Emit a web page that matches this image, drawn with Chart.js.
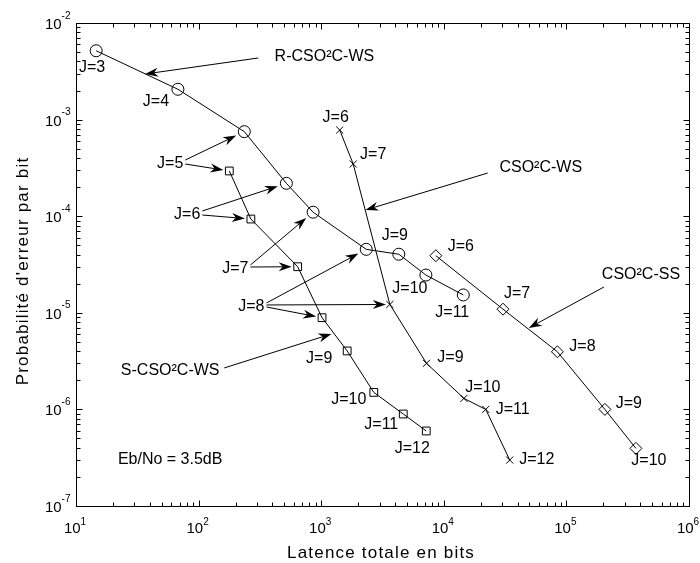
<!DOCTYPE html>
<html>
<head>
<meta charset="utf-8">
<script src="https://cdn.jsdelivr.net/npm/chart.js@4.4.1/dist/chart.umd.min.js"></script>
<style>
  html, body { margin: 0; padding: 0; background: #fff; }
</style>
</head>
<body>
<canvas id="chart" width="700" height="563"></canvas>
<script>
// ---------- DATA ----------
// R-CSO²C-WS (circles)
const jR = [3, 4, 5, 6, 7, 8, 9, 10, 11];
const latR = [14.6, 67.8, 236, 520, 859, 2330, 4295, 7145, 14420];
const berR = [5.16e-3, 2.06e-3, 7.5e-4, 2.19e-4, 1.10e-4, 4.54e-5, 4.04e-5, 2.46e-5, 1.53e-5];

// S-CSO²C-WS (squares)
const jS = [5, 6, 7, 8, 9, 10, 11, 12];
const latS = [178, 267, 643, 1016, 1629, 2685, 4670, 7195];
const berS = [2.94e-4, 9.35e-5, 3.0e-5, 8.9e-6, 4.03e-6, 1.5e-6, 8.96e-7, 5.98e-7];

// CSO²C-WS (x marks)
const jWS = [6, 7, 8, 9, 10, 11, 12];
const latWS = [1416, 1824, 3630, 7225, 14590, 21990, 34500];
const berWS = [7.8e-4, 3.47e-4, 1.22e-5, 3.0e-6, 1.30e-6, 1.0e-6, 2.99e-7];

// CSO²C-SS (diamonds)
const jSS = [6, 7, 8, 9, 10];
const latSS = [8610, 30400, 84500, 2.06e5, 3.69e5];
const berSS = [3.9e-5, 1.09e-5, 3.95e-6, 1.0e-6, 3.95e-7];

// tick labels (powers of ten)
const xTickExps = [1, 2, 3, 4, 5, 6];
const yTickExps = [-7, -6, -5, -4, -3, -2];

// ---------- ANNOTATIONS ----------
const FONT = '"Liberation Sans", Arial, Helvetica, sans-serif';

// J=.. label offsets in px from each point (null = handled by a shared label)
const offR = [[-4, 16], [-22, 11], null, null, null, null, [-4, -20], [-16, 12], [-11, 16]];
const offS = [null, null, null, null, [-28, 6], [-25, 6], [-22, 9], [-14, 16]];
const offWS = [[-4, -14], [20, -11], null, [24, -7], [19, -12], [27, -1], [27, -2]];
const offSS = [[25, -10], [14, -17], [25, -6], [24, -7], [13, 11]];

// free texts, position in log10(latency), log10(BER)
const notes = [
  { text: "R-CSO²C-WS", at: [3.026, -2.331] },
  { text: "CSO²C-WS", at: [4.791, -3.480] },
  { text: "CSO²C-SS", at: [5.608, -4.588] },
  { text: "S-CSO²C-WS", at: [1.768, -5.582] },
  { text: "Eb/No = 3.5dB", at: [1.768, -6.503] }
];
// arrows naming the curves (log10 coords)
const pointers = [
  { from: [2.487, -2.362], to: [1.564, -2.528] },
  { from: [4.358, -3.553], to: [3.361, -3.936] },
  { from: [5.306, -4.733], to: [4.693, -5.157] },
  { from: [2.209, -5.571], to: [3.083, -5.219] }
];
// J labels pointing at several curves: [datasetIndex, pointIndex]
const sharedJ = [
  { text: "J=5", at: [1.768, -3.439], to: [[0, 2], [1, 0]] },
  { text: "J=6", at: [1.907, -3.967], to: [[0, 3], [1, 1]] },
  { text: "J=7", at: [2.299, -4.526], to: [[0, 4], [1, 2]] },
  { text: "J=8", at: [2.430, -4.919], to: [[0, 5], [2, 2], [1, 3]] }
];
const markerGap = [9, 6, 4, 8];

// ---------- helpers ----------
function series(lat, ber, style, radius) {
  return {
    data: lat.map((v, i) => ({ x: v, y: ber[i] })),
    showLine: true,
    borderColor: "#000",
    borderWidth: 1,
    tension: 0,
    pointStyle: style,
    pointRadius: radius,
    pointBorderColor: "#000",
    pointBorderWidth: 1,
    pointBackgroundColor: "rgba(0,0,0,0)"
  };
}

function arrow(ctx, x1, y1, x2, y2) {
  const ang = Math.atan2(y2 - y1, x2 - x1);
  const c = Math.cos(ang), s = Math.sin(ang);
  const L = 13, W = 4.5, N = 4;
  ctx.beginPath();
  ctx.moveTo(x1, y1);
  ctx.lineTo(x2 - (L - N) * c, y2 - (L - N) * s);
  ctx.stroke();
  ctx.beginPath();
  ctx.moveTo(x2, y2);
  ctx.lineTo(x2 - L * c + W * s, y2 - L * s - W * c);
  ctx.lineTo(x2 - (L - N) * c, y2 - (L - N) * s);
  ctx.lineTo(x2 - L * c - W * s, y2 - L * s + W * c);
  ctx.closePath();
  ctx.fill();
}

function powerLabel(ctx, e, x, y, axis) {
  ctx.font = "15px " + FONT;
  const wb = ctx.measureText("10").width;
  ctx.font = "10px " + FONT;
  const es = String(e);
  const we = ctx.measureText(es).width;
  ctx.textAlign = "left";
  ctx.textBaseline = "alphabetic";
  if (axis === "y") {
    const right = x - 6;
    ctx.font = "15px " + FONT;
    ctx.fillText("10", right - we - wb, y + 6);
    ctx.font = "10px " + FONT;
    ctx.fillText(es, right - we, y - 4.4);
  } else {
    const start = x - (wb + we) / 2 - 1;
    ctx.font = "15px " + FONT;
    ctx.fillText("10", start, y + 26.5);
    ctx.font = "10px " + FONT;
    ctx.fillText(es, start + wb, y + 18.5);
  }
}

const jLists = [jR, jS, jWS, jSS];
const offLists = [offR, offS, offWS, offSS];

const decorations = {
  id: "decorations",
  afterDraw(chart) {
    const { ctx, chartArea: a, scales: { x, y } } = chart;
    const L = Math.round(a.left) + 0.5, R = Math.round(a.right) + 0.5;
    const T = Math.round(a.top) + 0.5, B = Math.round(a.bottom) + 0.5;
    const px = lx => x.getPixelForValue(Math.pow(10, lx));
    const py = ly => y.getPixelForValue(Math.pow(10, ly));
    ctx.save();
    ctx.strokeStyle = "#000";
    ctx.fillStyle = "#000";
    ctx.lineWidth = 1;

    // box + inward ticks
    ctx.strokeRect(L, T, R - L, B - T);
    ctx.beginPath();
    for (let e = 1; e <= 6; e++) {
      for (let m = 1; m <= 9; m++) {
        const v = m * Math.pow(10, e);
        if (v > x.max * 1.0001) break;
        const p = Math.round(x.getPixelForValue(v)) + 0.5;
        const len = m === 1 ? 6 : 4;
        ctx.moveTo(p, B); ctx.lineTo(p, B - len);
        ctx.moveTo(p, T); ctx.lineTo(p, T + len);
      }
    }
    for (let e = -7; e <= -2; e++) {
      for (let m = 1; m <= 9; m++) {
        const v = m * Math.pow(10, e);
        if (v > y.max * 1.0001) break;
        const p = Math.round(y.getPixelForValue(v)) + 0.5;
        const len = m === 1 ? 6 : 4;
        ctx.moveTo(L, p); ctx.lineTo(L + len, p);
        ctx.moveTo(R, p); ctx.lineTo(R - len, p);
      }
    }
    ctx.stroke();

    // tick labels
    xTickExps.forEach(e => powerLabel(ctx, e, px(e), B, "x"));
    yTickExps.forEach(e => powerLabel(ctx, e, L, py(e), "y"));

    // axis titles
    ctx.font = "17px " + FONT;
    ctx.letterSpacing = "1.2px";
    ctx.textAlign = "center";
    ctx.textBaseline = "alphabetic";
    ctx.fillText("Latence totale en bits", 381, 558);
    ctx.save();
    ctx.translate(28, 271);
    ctx.rotate(-Math.PI / 2);
    ctx.fillText("Probabilité d'erreur par bit", 0, 0);
    ctx.restore();
    ctx.letterSpacing = "0px";

    // J labels next to points
    ctx.font = "16px " + FONT;
    chart.data.datasets.forEach((ds, di) => {
      const meta = chart.getDatasetMeta(di);
      offLists[di].forEach((o, i) => {
        if (!o) return;
        const el = meta.data[i];
        ctx.fillText("J=" + jLists[di][i], el.x + o[0], el.y + o[1] + 5.7);
      });
    });

    // shared J labels with arrows
    sharedJ.forEach(s => {
      const cx = px(s.at[0]), cy = py(s.at[1]);
      ctx.fillText(s.text, cx, cy + 5.7);
      const w = ctx.measureText(s.text).width;
      s.to.forEach(([di, i]) => {
        const el = chart.getDatasetMeta(di).data[i];
        const dy = el.y - cy;
        const tx = cx + w / 2 + 2;
        const ty = cy + (dy < -5 ? -2 : dy > 5 ? 2 : 0);
        const d = Math.hypot(el.x - tx, el.y - ty);
        const g = markerGap[di];
        arrow(ctx, tx, ty, el.x - (el.x - tx) * g / d, el.y - (el.y - ty) * g / d);
      });
    });

    // curve names
    notes.forEach(n => ctx.fillText(n.text, px(n.at[0]), py(n.at[1]) + 5.7));
    pointers.forEach(p => arrow(ctx, px(p.from[0]), py(p.from[1]), px(p.to[0]), py(p.to[1])));

    ctx.restore();
  }
};

new Chart(document.getElementById("chart"), {
  type: "scatter",
  data: {
    datasets: [
      series(latR, berR, "circle", 6),
      series(latS, berS, "rect", 5.5),
      series(latWS, berWS, "crossRot", 5),
      series(latSS, berSS, "rectRot", 6)
    ]
  },
  options: {
    responsive: false,
    animation: false,
    layout: { padding: { left: 76, right: 11, top: 23, bottom: 57 } },
    plugins: { legend: { display: false }, tooltip: { enabled: false } },
    scales: {
      x: { type: "logarithmic", min: 10, max: 1e6, display: false },
      y: { type: "logarithmic", min: 1e-7, max: 1e-2, display: false }
    }
  },
  plugins: [decorations]
});
</script>
</body>
</html>
